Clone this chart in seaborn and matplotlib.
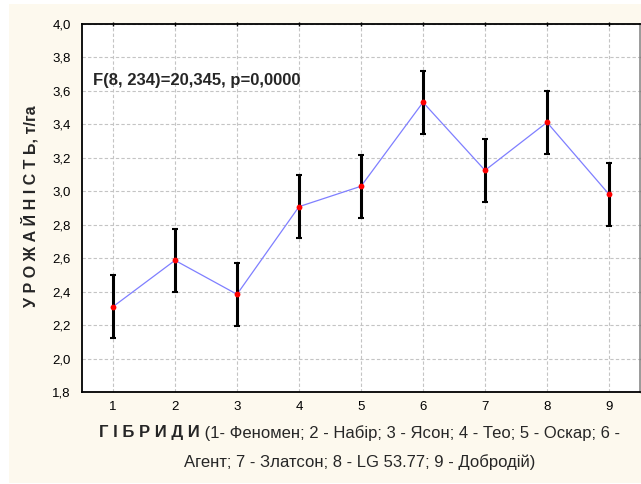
import matplotlib
matplotlib.use("Agg")
import matplotlib.pyplot as plt
import matplotlib.ticker as mticker
from matplotlib.patches import Rectangle
import numpy as np
import pandas as pd
import seaborn as sns

# hybrids 1..9, mean yield (t/ha) and half-width of the error bars
hybrids = [1, 2, 3, 4, 5, 6, 7, 8, 9]
yields = [2.31, 2.587, 2.384, 2.908, 3.03, 3.532, 3.125, 3.412, 2.982]
errs = [0.187, 0.187, 0.187, 0.187, 0.187, 0.187, 0.187, 0.187, 0.187]

stat_text = "F(8, 234)=20,345, p=0,0000"
ylabel = "У Р О Ж А Й Н І С Т Ь, т/га"
xlabel_bold = "Г І Б Р И Д И"
xlabel_line1 = " (1- Феномен; 2 - Набір; 3 - Ясон; 4 - Тео; 5 - Оскар; 6 -"
xlabel_line2 = "Агент; 7 - Златсон; 8 - LG 53.77; 9 - Добродій)"

df = pd.DataFrame({"hybrid": hybrids, "yield": yields, "err": errs})

sns.set_style("white")
plt.rcParams["font.family"] = ["Liberation Sans", "DejaVu Sans"]

fig = plt.figure(figsize=(6.41, 4.84), dpi=100)
fig.patch.set_facecolor("white")
# cream panel behind everything
fig.patches.append(Rectangle((9 / 641, 1 / 484), 632 / 641, 479 / 484,
                             transform=fig.transFigure, facecolor="#fdf9ee",
                             edgecolor="none", zorder=-10))

ax = fig.add_axes([82 / 641, 92 / 484, 558 / 641, 368 / 484])
ax.set_facecolor("white")

ax.errorbar(df["hybrid"], df["yield"], yerr=df["err"], fmt="none",
            ecolor="black", elinewidth=2.2, capsize=2.2, capthick=1.5, zorder=3)
sns.lineplot(data=df, x="hybrid", y="yield", ax=ax, color="#7f7fff",
             linewidth=0.9, zorder=2)
ax.plot(df["hybrid"], df["yield"], "o", color="red", markersize=4.2,
        markeredgewidth=0, zorder=4)

ax.set_xlim(0.5, 9.5)
ax.set_ylim(1.8, 4.0)
ax.set_xticks(hybrids)
ax.set_yticks(np.arange(1.8, 4.01, 0.2))
ax.yaxis.set_major_formatter(mticker.FuncFormatter(lambda v, p: f"{v:.1f}".replace(".", ",")))
ax.grid(True, linestyle=(0, (3, 2)), color="#c4c4c4", linewidth=0.8)
ax.set_axisbelow(True)

ax.tick_params(axis="both", direction="out", length=3, width=1, labelsize=9.5,
               colors="black", pad=5)
ax.tick_params(top=True, right=True, which="major")
ax.tick_params(axis="x", top=True, direction="inout")
for side in ["left", "bottom", "top"]:
    ax.spines[side].set_color("black")
    ax.spines[side].set_linewidth(1.3)
ax.spines["right"].set_color("#8a8a8a")
ax.spines["right"].set_linewidth(1.2)

ax.set_xlabel("")
ax.set_ylabel("")

ax.text(0.68, 3.665, stat_text, fontsize=12, fontweight="bold", va="center",
        ha="left", zorder=5)

fig.text(30 / 641, (484 - 206) / 484, ylabel, rotation=90,
         fontsize=11.5, fontweight="bold", ha="center", va="center")

t1 = fig.text(99 / 641, (484 - 433) / 484, xlabel_bold, fontsize=12,
              fontweight="bold", ha="left", va="center")
fig.text(360 / 641, (484 - 462) / 484, xlabel_line2, fontsize=12,
         ha="center", va="center")
ax.annotate(xlabel_line1, xy=(1, 0.5), xycoords=t1, ha="left", va="center",
            fontsize=12, annotation_clip=False)

fig.savefig("out.png", dpi=100)
